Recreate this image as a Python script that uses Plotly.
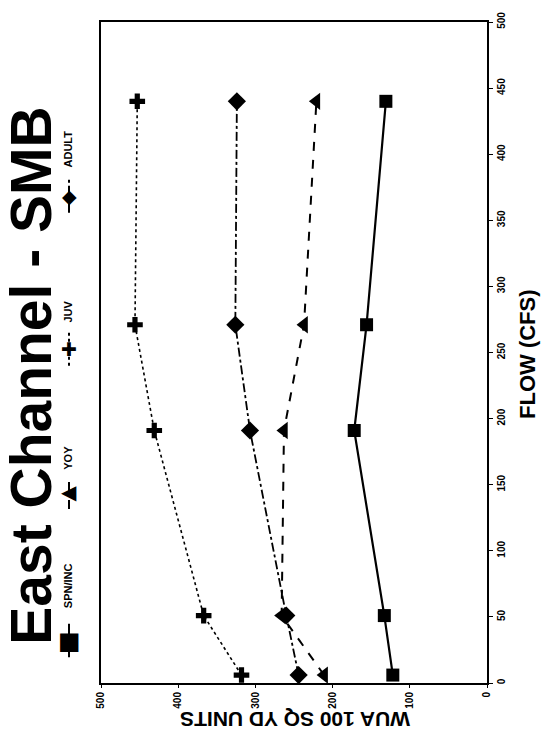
import plotly.graph_objects as go

# ---- data ----
flow = [6, 51, 191, 271, 440]
spn_inc = [122, 133, 172, 156, 131]
yoy = [211, 266, 263, 237, 221]
juv = [318, 367, 431, 456, 453]
adult = [244, 260, 307, 326, 324]
flow_ticks = [0, 50, 100, 150, 200, 250, 300, 350, 400, 450, 500]
wua_ticks = [0, 100, 200, 300, 400, 500]

W, H = 543, 741
L, R, T, B = 101, 487, 14, 683  # plot area in pixels


def px(x):
    return (x - L) / (R - L)


def py(y):
    return (B - y) / (B - T)


FONT = "Liberation Sans, Arial, sans-serif"

series = [
    ("SPN/INC", spn_inc, "square", "solid", 13, 2.2),
    ("YOY", yoy, "triangle-left", "dash", 15, 2.0),
    ("JUV", juv, "cross", "dot", 13, 1.6),
    ("ADULT", adult, "diamond", "dashdot", 14, 1.8),
]

fig = go.Figure()
for name, vals, sym, dash, size, lw in series:
    fig.add_trace(go.Scatter(
        x=vals, y=flow, mode="lines+markers", name=name,
        line=dict(color="black", width=lw, dash=dash),
        marker=dict(symbol=sym, size=size, color="black"),
        showlegend=False,
    ))

fig.update_layout(
    width=W, height=H,
    margin=dict(l=L, r=W - R, t=T, b=H - B, pad=0),
    paper_bgcolor="white", plot_bgcolor="white",
    font=dict(family=FONT, color="black"),
    xaxis=dict(range=[500, 0], tickvals=wua_ticks, tickangle=-90,
               showline=True, mirror=True, linecolor="black", linewidth=2,
               ticks="outside", ticklen=3, tickcolor="black",
               showgrid=False, zeroline=False,
               tickfont=dict(size=10, family=FONT, weight="bold")),
    yaxis=dict(range=[0, 500], tickvals=flow_ticks, tickangle=-90, side="right",
               showline=True, mirror=True, linecolor="black", linewidth=2,
               ticks="outside", ticklen=4, tickcolor="black",
               showgrid=False, zeroline=False,
               tickfont=dict(size=10, family=FONT, weight="bold")),
)


def note(x, y, text, angle, size, family=FONT):
    return dict(x=px(x), y=py(y), xref="paper", yref="paper", text=text,
                textangle=angle, showarrow=False, xanchor="center", yanchor="middle",
                borderpad=0, font=dict(size=size, family=family))


ann = []
ann.append(note(31, 372, "<b>East Channel - SMB</b>", -90, 57))
ann.append(note(528, 350, "<b>FLOW (CFS)</b>", -90, 22))
ann.append(note(295, 720, "<b>WUA 100 SQ YD UNITS</b>", 180, 21))

# manual rotated legend
legend_items = [
    ("SPN/INC", "■", 640, 585, "solid", 24),
    ("YOY", "◀", 490, 455, "dash", 20),
    ("JUV", "✚", 345, 307, "dot", 19),
    ("ADULT", "◆", 190, 143, "dashdot", 19),
]
shapes = []
for name, glyph, ym, yt, dash, gs in legend_items:
    shapes.append(dict(type="line", xref="paper", yref="paper",
                       x0=px(69), x1=px(69), y0=py(ym + 17), y1=py(ym - 17),
                       line=dict(color="black", width=2, dash=dash)))
    ann.append(note(69, ym, glyph, 0, gs, "DejaVu Sans"))
    ann.append(note(68, yt, "<b>" + name + "</b>", -90, 11))

fig.update_layout(annotations=ann, shapes=shapes)
fig.write_html("out.html")
